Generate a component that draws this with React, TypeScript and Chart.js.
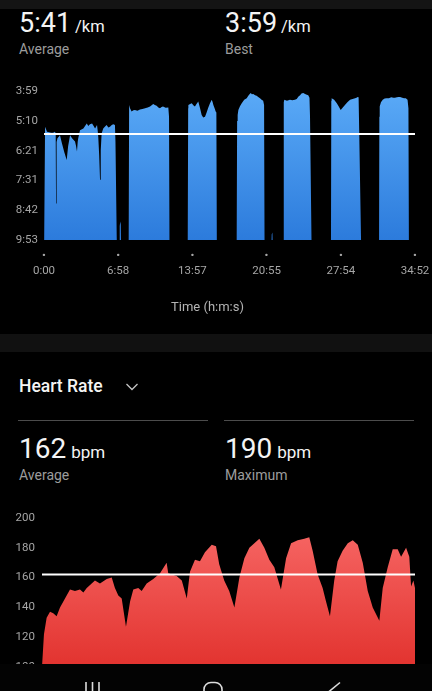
import React, { useEffect, useRef } from "react";
import { Chart, registerables } from "chart.js";

Chart.register(...registerables);

// ---------- DATA ----------
const paceTicks = [239, 310, 381, 451, 522, 593]; // seconds per km (3:59 ... 9:53)
const timeTicks = [0, 418, 837, 1255, 1674, 2092]; // seconds (0:00 ... 34:52)
const paceAverage = 341; // 5:41 /km
const hrTicks = [100, 120, 140, 160, 180, 200];
const hrAverage = 162;

// [elapsed seconds, pace in seconds/km]; 650 = off the slow end of the axis (resting)
const paceSamples: [number, number][] = [
  [0, 650], [5, 650], [6, 324], [17, 336], [40, 338], [51, 338], [62, 336], [66, 340], [68, 506], [71, 360],
  [76, 351], [90, 344], [101, 363], [115, 385], [128, 403], [136, 370], [147, 344], [158, 351], [175, 359], [181, 370],
  [186, 383], [190, 360], [193, 351], [203, 332], [222, 328], [241, 316], [250, 322], [259, 318], [271, 316], [280, 322],
  [288, 328], [299, 320], [303, 334], [306, 348], [311, 390], [316, 450], [320, 380], [325, 340], [334, 328], [343, 324],
  [353, 320], [363, 326], [372, 324], [382, 320], [391, 318], [400, 320], [403, 360], [410, 585], [413, 650],
  [425, 650], [427, 560], [430, 549], [433, 556], [436, 650],
  [477, 650], [480, 272], [485, 280], [494, 288], [504, 285], [513, 284], [527, 286], [541, 283], [555, 282], [570, 280],
  [585, 278], [598, 276], [607, 273], [616, 270], [625, 272], [635, 274], [645, 278], [654, 280], [663, 277], [671, 276],
  [686, 279], [701, 278], [705, 300], [708, 650],
  [810, 650], [813, 280], [814, 272], [824, 270], [833, 268], [842, 273], [851, 276], [860, 270], [870, 264], [880, 280],
  [889, 296], [898, 302], [908, 300], [917, 290], [926, 279], [936, 268], [946, 260], [951, 266], [955, 272], [962, 280],
  [968, 288], [972, 290], [975, 650],
  [1086, 650], [1089, 310], [1092, 296], [1096, 284], [1105, 275], [1115, 268], [1129, 260], [1143, 256], [1152, 250], [1160, 246],
  [1166, 244], [1172, 247], [1180, 246], [1190, 249], [1199, 250], [1208, 253], [1218, 256], [1227, 260], [1236, 262], [1241, 272],
  [1244, 650],
  [1280, 650], [1284, 580], [1288, 575], [1292, 650],
  [1349, 650], [1352, 266], [1355, 260], [1370, 262], [1387, 260], [1400, 261], [1415, 260], [1425, 258], [1435, 252], [1444, 249],
  [1452, 245], [1462, 244], [1472, 246], [1482, 248], [1490, 249], [1497, 255], [1500, 300], [1510, 650],
  [1618, 650], [1620, 262], [1622, 256], [1636, 260], [1651, 268], [1662, 276], [1673, 284], [1685, 278], [1697, 272], [1712, 265],
  [1726, 260], [1740, 258], [1754, 256], [1762, 255], [1769, 253], [1774, 254], [1776, 300], [1790, 650],
  [1889, 650], [1891, 300], [1893, 276], [1900, 266], [1910, 260], [1921, 257], [1932, 256], [1945, 256], [1958, 254], [1970, 255],
  [1979, 255], [1990, 254], [2000, 253], [2008, 253], [2020, 255], [2030, 256], [2040, 256], [2050, 260], [2055, 280], [2058, 650],
  [2092, 650],
];

const hrTime = [
  0, 11, 26, 45, 63, 82, 101, 129, 157, 185, 213, 232, 251, 297, 325, 363, 391, 409, 428, 447,
  471, 494, 512, 540, 559, 587, 624, 662, 699, 708, 755, 784, 812, 830, 858, 886, 914, 952, 976, 994,
  1022, 1050, 1079, 1107, 1135, 1163, 1191, 1219, 1247, 1275, 1303, 1340, 1369, 1397, 1434, 1471, 1499, 1518, 1546, 1574,
  1593, 1615, 1639, 1658, 1686, 1715, 1743, 1771, 1799, 1827, 1855, 1892, 1911, 1939, 1967, 1995, 2014, 2042, 2060, 2070,
  2083, 2092,
];
const hrBpm = [
  100, 122, 133, 137, 136, 134, 140, 146, 152, 151, 152, 150, 153, 158, 156, 159, 160, 153, 148, 146,
  127, 144, 152, 153, 151, 156, 159, 163, 170, 163, 161, 158, 146, 164, 172, 171, 177, 182, 181, 169,
  158, 151, 140, 160, 173, 180, 183, 186, 180, 172, 167, 152, 173, 183, 185, 186, 187, 178, 162, 153,
  144, 134, 158, 171, 178, 183, 185, 182, 170, 151, 140, 131, 153, 167, 179, 179, 174, 180, 174, 154,
  158, 153,
];

// ---------- HELPERS ----------
const FONT = "Roboto, 'Noto Sans', sans-serif";
const fmt = (v: number) => `${Math.floor(v / 60)}:${String(Math.round(v) % 60).padStart(2, "0")}`;

function vGradient(top: string, bottom: string) {
  return (ctx: any) => {
    const { chart } = ctx;
    const area = chart.chartArea;
    if (!area) return top;
    const g = chart.ctx.createLinearGradient(0, area.top, 0, area.bottom);
    g.addColorStop(0, top);
    g.addColorStop(1, bottom);
    return g;
  };
}

function PaceChart() {
  const ref = useRef<HTMLCanvasElement>(null);
  useEffect(() => {
    const chart = new Chart(ref.current!, {
      type: "line",
      data: {
        datasets: [
          {
            data: [{ x: timeTicks[0], y: paceAverage }, { x: timeTicks[timeTicks.length - 1], y: paceAverage }],
            borderColor: "#ffffff",
            borderWidth: 2,
            pointRadius: 0,
            fill: false,
            order: 0,
            clip: 0,
          } as any,
          {
            data: paceSamples.map(([t, p]) => ({ x: t, y: p })),
            borderColor: "rgba(0,0,0,0)",
            borderWidth: 0,
            pointRadius: 0,
            tension: 0,
            fill: { value: paceTicks[paceTicks.length - 1] },
            backgroundColor: vGradient("#5aaaf7", "#2c7bdc"),
            order: 1,
            clip: 0,
          } as any,
        ],
      },
      options: {
        animation: false,
        responsive: false,
        maintainAspectRatio: false,
        events: [],
        layout: { autoPadding: false, padding: { top: 11, right: 17, left: 0, bottom: 0 } },
        plugins: {
          legend: { display: false },
          tooltip: { enabled: false },
          title: {
            display: true,
            position: "bottom",
            text: "Time (h:m:s)",
            color: "#b4b4b4",
            font: { family: FONT, size: 13, weight: "normal", lineHeight: 1.2 },
            padding: { top: 0, bottom: 4 },
          },
        },
        scales: {
          x: {
            type: "linear",
            min: timeTicks[0],
            max: timeTicks[timeTicks.length - 1],
            grid: { display: false, drawTicks: false },
            border: { display: false },
            afterBuildTicks: (s: any) => {
              s.ticks = timeTicks.map((v) => ({ value: v }));
            },
            ticks: {
              color: "#a6a6a6",
              font: { family: FONT, size: 11.5, lineHeight: 1.26 },
              padding: 9,
              maxRotation: 0,
              autoSkip: false,
              callback: (v: any) => ["•", fmt(Number(v))],
            },
            afterFit: (s: any) => {
              s.height = 60.4;
              s.paddingLeft = 0;
              s.paddingRight = 0;
            },
          },
          y: {
            type: "linear",
            reverse: true,
            min: paceTicks[0],
            max: paceTicks[paceTicks.length - 1],
            grid: { display: false, drawTicks: false },
            border: { display: false },
            afterBuildTicks: (s: any) => {
              s.ticks = paceTicks.map((v) => ({ value: v }));
            },
            ticks: {
              color: "#a6a6a6",
              font: { family: FONT, size: 11.5 },
              padding: 6,
              callback: (v: any) => fmt(Number(v)),
            },
            afterFit: (s: any) => {
              s.width = 44;
              s.paddingTop = 0;
              s.paddingBottom = 0;
            },
          },
        },
      } as any,
    });
    return () => chart.destroy();
  }, []);
  return (
    <canvas
      ref={ref}
      width={432}
      height={240}
      style={{ position: "absolute", left: 0, top: 80, width: 432, height: 240 }}
    />
  );
}

function HeartChart() {
  const ref = useRef<HTMLCanvasElement>(null);
  useEffect(() => {
    const chart = new Chart(ref.current!, {
      type: "line",
      data: {
        datasets: [
          {
            data: [{ x: hrTime[0], y: hrAverage }, { x: hrTime[hrTime.length - 1], y: hrAverage }],
            borderColor: "#ffffff",
            borderWidth: 2,
            pointRadius: 0,
            fill: false,
            order: 0,
            clip: 0,
          } as any,
          {
            data: hrTime.map((t, i) => ({ x: t, y: hrBpm[i] })),
            borderColor: "rgba(0,0,0,0)",
            borderWidth: 0,
            pointRadius: 0,
            tension: 0,
            fill: { value: hrTicks[0] },
            backgroundColor: vGradient("#f86a68", "#e2332f"),
            order: 1,
            clip: 0,
          } as any,
        ],
      },
      options: {
        animation: false,
        responsive: false,
        maintainAspectRatio: false,
        events: [],
        layout: { autoPadding: false, padding: { top: 11, right: 17, left: 0, bottom: 15 } },
        plugins: { legend: { display: false }, tooltip: { enabled: false } },
        scales: {
          x: {
            type: "linear",
            display: false,
            min: hrTime[0],
            max: hrTime[hrTime.length - 1],
          },
          y: {
            type: "linear",
            min: hrTicks[0],
            max: hrTicks[hrTicks.length - 1],
            grid: { display: false, drawTicks: false },
            border: { display: false },
            afterBuildTicks: (s: any) => {
              s.ticks = hrTicks.map((v) => ({ value: v }));
            },
            ticks: {
              color: "#a6a6a6",
              font: { family: FONT, size: 11.5 },
              padding: 7,
            },
            afterFit: (s: any) => {
              s.width = 42;
              s.paddingTop = 0;
              s.paddingBottom = 0;
            },
          },
        },
      } as any,
    });
    return () => chart.destroy();
  }, []);
  return (
    <canvas
      ref={ref}
      width={432}
      height={175}
      style={{ position: "absolute", left: 0, top: 507, width: 432, height: 175 }}
    />
  );
}

function T(props: { x: number; base: number; size: number; color: string; weight?: number; children: any }) {
  const { x, base, size, color, weight = 400, children } = props;
  return (
    <div
      style={{
        position: "absolute",
        left: x,
        top: base - size * 0.8415,
        fontSize: size,
        lineHeight: `${size}px`,
        color,
        fontWeight: weight,
        fontFamily: FONT,
        whiteSpace: "nowrap",
      }}
    >
      {children}
    </div>
  );
}

const Unit = (p: { children: any; size: number; ml: number }) => (
  <span style={{ fontSize: p.size, lineHeight: 1, marginLeft: p.ml }}>{p.children}</span>
);

export default function App() {
  return (
    <div
      style={{
        position: "fixed",
        left: 0,
        top: 0,
        width: 432,
        height: 691,
        background: "#000",
        overflow: "hidden",
        fontFamily: FONT,
      }}
    >
      <div style={{ position: "absolute", left: 0, top: 0, width: 432, height: 9, background: "#141414" }} />

      <T x={19} base={32.3} size={27} color="#f4f4f4">
        5:41<Unit size={16.5} ml={4}>/km</Unit>
      </T>
      <T x={19} base={53.3} size={14} color="#9c9c9c">Average</T>
      <T x={225} base={32.3} size={27} color="#f4f4f4">
        3:59<Unit size={16.5} ml={4}>/km</Unit>
      </T>
      <T x={225} base={53.3} size={14} color="#9c9c9c">Best</T>

      <PaceChart />

      <div style={{ position: "absolute", left: 0, top: 334, width: 432, height: 18, background: "#111111" }} />

      <T x={19} base={392.3} size={17.5} color="#f4f4f4" weight={500}>Heart Rate</T>
      <svg style={{ position: "absolute", left: 125, top: 382 }} width={15} height={10}>
        <polyline points="1.5,2 7,7.5 12.5,2" fill="none" stroke="#c4c4c4" strokeWidth={1.3} />
      </svg>
      <div style={{ position: "absolute", left: 18, top: 419.5, width: 190, height: 1.5, background: "#4c4c4c" }} />
      <div style={{ position: "absolute", left: 224, top: 419.5, width: 190, height: 1.5, background: "#4c4c4c" }} />

      <T x={19} base={458.3} size={28} color="#f4f4f4">
        162<Unit size={17} ml={5}>bpm</Unit>
      </T>
      <T x={19} base={480} size={14} color="#9c9c9c">Average</T>
      <T x={225} base={458.3} size={28} color="#f4f4f4">
        190<Unit size={17} ml={5}>bpm</Unit>
      </T>
      <T x={225} base={480} size={14} color="#9c9c9c">Maximum</T>

      <HeartChart />

      <div style={{ position: "absolute", left: 0, top: 664, width: 432, height: 27, background: "#030303" }}>
        <svg width={432} height={27} style={{ position: "absolute", left: 0, top: 0 }}>
          <line x1={86} y1={18} x2={86} y2={27} stroke="#dcdcdc" strokeWidth={1.6} />
          <line x1={92.5} y1={18} x2={92.5} y2={27} stroke="#dcdcdc" strokeWidth={1.6} />
          <line x1={99} y1={18} x2={99} y2={27} stroke="#dcdcdc" strokeWidth={1.6} />
          <rect x={204} y={18.5} width={18} height={18} rx={7} fill="none" stroke="#dcdcdc" strokeWidth={1.6} />
          <line x1={340} y1={18.5} x2={328.5} y2={28} stroke="#dcdcdc" strokeWidth={1.6} />
        </svg>
      </div>
    </div>
  );
}
